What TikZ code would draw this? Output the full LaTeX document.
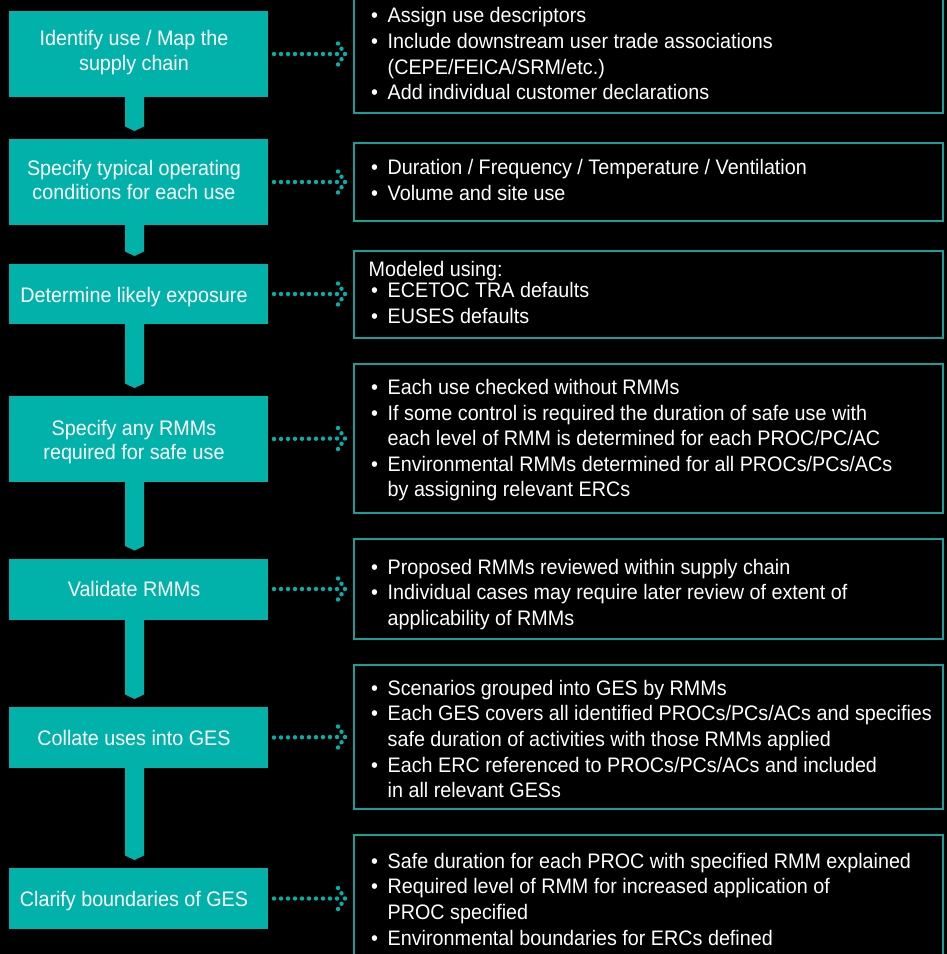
\documentclass[tikz,border=0pt]{standalone}
\usepackage{fontspec}
\setmainfont{Liberation Sans}[FakeStretch=0.94]
\usetikzlibrary{calc}
\definecolor{tealfill}{RGB}{0,178,169}
\definecolor{tealline}{RGB}{22,160,152}
\newcommand\bul{\makebox[16.5pt][l]{•}}
\newcommand\ind{\makebox[16.5pt][l]{}}
\newcommand\tstr{\rule{0pt}{18pt}}
\begin{document}
\begin{tikzpicture}[x=1pt,y=-1pt,
  stepbox/.style={fill=tealfill, draw=none, minimum width=259pt, inner sep=0pt, outer sep=0pt},
  infobox/.style={draw=tealline, line width=2pt, minimum width=589.5pt, inner sep=0pt, outer sep=0pt},
  steptext/.style={text=white, align=center, anchor=north, inner sep=0pt, font=\fontsize{21}{24.4}\selectfont},
  infotext/.style={text=white, align=left, anchor=north west, inner sep=0pt, font=\fontsize{21}{25.6}\selectfont},
  stemfill/.style={fill=tealfill},
  dotline/.style={draw=tealfill, line width=4.4pt, line cap=round, dash pattern=on 0pt off 7pt},
  dothead/.style={draw=tealfill, line width=4.4pt, line cap=round, line join=round, dash pattern=on 0pt off 6.3pt},
]
\fill[black] (0,0) rectangle (947,954);
\useasboundingbox (0,0) rectangle (947,954);

% step boxes
\node[stepbox, minimum height=86pt] (b1) at (138.5,54) {};
\node[stepbox, minimum height=86pt] (b2) at (138.5,182) {};
\node[stepbox, minimum height=60pt] (b3) at (138.5,294) {};
\node[stepbox, minimum height=86pt] (b4) at (138.5,439) {};
\node[stepbox, minimum height=61pt] (b5) at (138.5,589) {};
\node[stepbox, minimum height=61pt] (b6) at (138.5,737.5) {};
\node[stepbox, minimum height=61pt] (b7) at (138.5,898.5) {};

% step texts
\node[steptext] (t1) at (134,27.7) {\tstr Identify use / Map the\\supply chain};
\node[steptext] (t2) at (134,157) {\tstr Specify typical operating\\conditions for each use};
\node[steptext] (t3) at (134,284) {\tstr Determine likely exposure};
\node[steptext] (t4) at (134,417) {\tstr Specify any RMMs\\required for safe use};
\node[steptext] (t5) at (134,578.5) {\tstr Validate RMMs};
\node[steptext] (t6) at (134,727) {\tstr Collate uses into GES};
\node[steptext] (t7) at (134,888) {\tstr Clarify boundaries of GES};

% info boxes
\node[infobox, minimum height=118pt] (r1) at (648.25,54) {};
\node[infobox, minimum height=78pt] (r2) at (648.25,182) {};
\node[infobox, minimum height=87pt] (r3) at (648.25,294) {};
\node[infobox, minimum height=149pt] (r4) at (648.25,438.5) {};
\node[infobox, minimum height=100pt] (r5) at (648.25,589) {};
\node[infobox, minimum height=144pt] (r6) at (648.25,737) {};
\node[infobox, minimum height=127pt] (r7) at (648.25,898.5) {};

% info texts
\node[infotext] (i1) at (371,4.7) {\tstr\bul Assign use descriptors\\
\bul Include downstream user trade associations\\
\ind (CEPE/FEICA/SRM/etc.)\\
\bul Add individual customer declarations};
\node[infotext] (i2) at (371,156.5) {\tstr\bul Duration / Frequency / Temperature / Ventilation\\
\bul Volume and site use};
\node[infotext] (i3) at (371,258.7) {\tstr\hspace*{-2.5pt}Modeled using:\\[-4.6pt]
\bul ECETOC TRA defaults\\
\bul EUSES defaults};
\node[infotext] (i4) at (371,376.3) {\tstr\bul Each use checked without RMMs\\
\bul If some control is required the duration of safe use with\\
\ind each level of RMM is determined for each PROC/PC/AC\\
\bul Environmental RMMs determined for all PROCs/PCs/ACs\\
\ind by assigning relevant ERCs};
\node[infotext] (i5) at (371,556) {\tstr\bul Proposed RMMs reviewed within supply chain\\
\bul Individual cases may require later review of extent of\\
\ind applicability of RMMs};
\node[infotext] (i6) at (371,677) {\tstr\bul Scenarios grouped into GES by RMMs\\
\bul Each GES covers all identified PROCs/PCs/ACs and specifies\\
\ind safe duration of activities with those RMMs applied\\
\bul Each ERC referenced to PROCs/PCs/ACs and included\\
\ind in all relevant GESs};
\node[infotext] (i7) at (371,850) {\tstr\bul Safe duration for each PROC with specified RMM explained\\
\bul Required level of RMM for increased application of\\
\ind PROC specified\\
\bul Environmental boundaries for ERCs defined};

% stems between step boxes
\foreach \a/\b in {b1/b2,b2/b3,b3/b4,b4/b5,b5/b6,b6/b7}{
  \fill[stemfill] ([xshift=-13.5pt,yshift=1pt]\a.south) -- ([xshift=5.5pt,yshift=1pt]\a.south)
    -- ([xshift=5.5pt,yshift=12.5pt]\b.north) -- ([xshift=-4pt,yshift=8pt]\b.north)
    -- ([xshift=-13.5pt,yshift=12.5pt]\b.north) -- cycle;
}

% dotted arrows
\foreach \i in {1,...,7}{
  \draw[dotline] ([xshift=6pt]b\i.east) -- ([xshift=-16.4pt]r\i.west);
  \draw[dothead] ([xshift=-15.5pt,yshift=10.5pt]r\i.west) -- ([xshift=-8.5pt]r\i.west)
    -- ([xshift=-15.5pt,yshift=-10.5pt]r\i.west);
}
\end{tikzpicture}
\end{document}
